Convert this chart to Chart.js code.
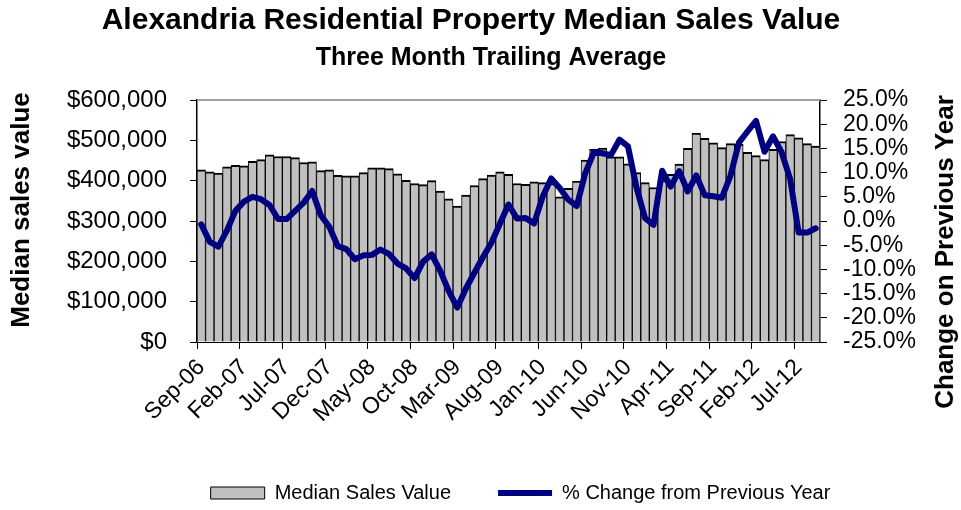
<!DOCTYPE html>
<html><head><meta charset="utf-8">
<script src="https://cdn.jsdelivr.net/npm/chart.js@4.4.1/dist/chart.umd.min.js"></script>
<style>html,body{margin:0;padding:0;background:#fff}canvas{display:block}</style>
</head><body>
<canvas id="c" width="961" height="510"></canvas>
<script>
const chartTitle = 'Alexandria Residential Property Median Sales Value';
const chartSubtitle = 'Three Month Trailing Average';
const leftAxisTitle = 'Median sales value';
const rightAxisTitle = 'Change on Previous Year';
const seriesNames = ['Median Sales Value', '% Change from Previous Year'];

const months = [
  'Sep-06','Oct-06','Nov-06','Dec-06','Jan-07','Feb-07','Mar-07','Apr-07','May-07','Jun-07',
  'Jul-07','Aug-07','Sep-07','Oct-07','Nov-07','Dec-07','Jan-08','Feb-08','Mar-08','Apr-08',
  'May-08','Jun-08','Jul-08','Aug-08','Sep-08','Oct-08','Nov-08','Dec-08','Jan-09','Feb-09',
  'Mar-09','Apr-09','May-09','Jun-09','Jul-09','Aug-09','Sep-09','Oct-09','Nov-09','Dec-09',
  'Jan-10','Feb-10','Mar-10','Apr-10','May-10','Jun-10','Jul-10','Aug-10','Sep-10','Oct-10',
  'Nov-10','Dec-10','Jan-11','Feb-11','Mar-11','Apr-11','May-11','Jun-11','Jul-11','Aug-11',
  'Sep-11','Oct-11','Nov-11','Dec-11','Jan-12','Feb-12','Mar-12','Apr-12','May-12','Jun-12',
  'Jul-12','Aug-12','Sep-12'
];

const medianSalesValue = [
  427000, 422000, 419000, 434000, 438000, 437000, 448000, 452000, 464000, 460000,
  460000, 457000, 445000, 447000, 425000, 427000, 413000, 412000, 412000, 420000,
  432000, 432000, 430000, 417000, 401000, 393000, 390000, 400000, 374000, 355000,
  337000, 364000, 388000, 405000, 414000, 422000, 416000, 393000, 391000, 397000,
  395000, 393000, 360000, 381000, 399000, 451000, 478000, 481000, 459000, 459000,
  442000, 420000, 395000, 383000, 400000, 416000, 441000, 480000, 518000, 505000,
  494000, 482000, 492000, 490000, 470000, 462000, 452000, 478000, 497000, 514000,
  506000, 492000, 486000
];

const pctChange = [
  -0.7, -4.3, -5.3, -2.0, 2.1, 4.0, 5.0, 4.5, 3.3, 0.4,
  0.4, 2.1, 3.8, 6.2, 1.2, -1.2, -5.2, -5.8, -7.9, -7.1,
  -7.0, -5.9, -6.8, -8.8, -9.8, -11.8, -8.4, -6.9, -10.3, -14.5,
  -17.9, -14.0, -10.7, -7.5, -4.5, -0.5, 3.4, 0.5, 0.6, -0.5,
  5.0, 8.8, 6.8, 4.4, 3.1, 9.9, 14.2, 14.0, 13.6, 16.8,
  15.4, 6.9, 0.6, -0.8, 10.4, 7.1, 10.3, 6.1, 9.4, 5.3,
  5.1, 4.8, 9.3, 16.2, 18.5, 20.7, 14.3, 17.5, 14.2, 8.7,
  -2.4, -2.4, -1.5
];

const FONT = '"Liberation Sans", Arial, Helvetica, sans-serif';
Chart.defaults.font.family = FONT;
Chart.defaults.color = '#000';

const decor = {
  id: 'decor',
  afterDraw(chart) {
    const ctx = chart.ctx, a = chart.chartArea;
    ctx.save();
    ctx.strokeStyle = '#a0a0a0';
    ctx.lineWidth = 2;
    ctx.beginPath();
    ctx.moveTo(a.left, a.top);
    ctx.lineTo(a.right, a.top);
    ctx.stroke();
    ctx.fillStyle = '#000';
    ctx.textAlign = 'center';
    ctx.textBaseline = 'alphabetic';
    ctx.font = 'bold 30px ' + FONT;
    ctx.fillText(chartTitle, 471, 29);
    ctx.font = 'bold 25px ' + FONT;
    ctx.fillText(chartSubtitle, 491, 65);
    ctx.font = 'bold 26px ' + FONT;
    ctx.textBaseline = 'middle';
    ctx.save();
    ctx.translate(22, 210);
    ctx.rotate(-Math.PI / 2);
    ctx.fillText(leftAxisTitle, 0, 0);
    ctx.restore();
    ctx.save();
    ctx.translate(946, 252);
    ctx.rotate(-Math.PI / 2);
    ctx.fillText(rightAxisTitle, 0, 0);
    ctx.restore();
    ctx.restore();
  }
};

new Chart(document.getElementById('c'), {
  type: 'bar',
  data: {
    labels: months,
    datasets: [
      {
        type: 'bar',
        label: seriesNames[0],
        data: medianSalesValue,
        yAxisID: 'y',
        backgroundColor: '#c0c0c0',
        borderColor: '#000',
        borderWidth: {top: 2, left: 1, right: 1, bottom: 0},
        barPercentage: 1,
        categoryPercentage: 1,
        pointStyle: 'rect',
        order: 2
      },
      {
        type: 'line',
        label: seriesNames[1],
        data: pctChange,
        yAxisID: 'y1',
        borderColor: '#000080',
        backgroundColor: '#000080',
        borderWidth: 6,
        borderJoinStyle: 'round',
        borderCapStyle: 'round',
        pointRadius: 0,
        pointHoverRadius: 0,
        pointStyle: 'line',
        tension: 0,
        order: 1
      }
    ]
  },
  options: {
    responsive: false,
    devicePixelRatio: 1,
    animation: false,
    layout: {padding: {top: 100, left: 0, right: -80, bottom: -3}},
    plugins: {
      title: {display: false},
      tooltip: {enabled: false},
      legend: {
        position: 'bottom',
        labels: {
          usePointStyle: true,
          pointStyleWidth: 54,
          boxHeight: 12,
          padding: 47,
          color: '#000',
          font: {size: 20, family: FONT},
          sort: (a, b) => a.datasetIndex - b.datasetIndex
        }
      }
    },
    scales: {
      x: {
        offset: true,
        afterFit: s => { s.height = 94; },
        grid: {
          offset: true,
          drawOnChartArea: false,
          tickLength: 7,
          color: c => (c.index % 5 === 0 ? '#000' : 'rgba(0,0,0,0)')
        },
        border: {display: true, color: '#000', width: 1},
        ticks: {
          autoSkip: false,
          minRotation: 45,
          maxRotation: 45,
          padding: 5,
          color: '#000',
          font: {size: 23, family: FONT},
          callback: function (v, i) { return i % 5 === 0 ? this.getLabelForValue(v) : ''; }
        }
      },
      y: {
        position: 'left',
        min: 0,
        max: 600000,
        afterFit: s => { s.width = 197; },
        grid: {drawOnChartArea: false, tickLength: 7, color: '#000'},
        border: {display: true, color: '#000', width: 1.5},
        ticks: {
          autoSkip: false,
          stepSize: 100000,
          padding: 23,
          color: '#000',
          font: {size: 24, family: FONT},
          callback: v => '$' + Number(v).toLocaleString('en-US')
        }
      },
      y1: {
        position: 'right',
        min: -25,
        max: 25,
        afterFit: s => { s.width = 221; },
        grid: {drawOnChartArea: false, tickLength: 7, color: '#000'},
        border: {display: true, color: '#000', width: 1.5},
        ticks: {
          autoSkip: false,
          stepSize: 5,
          padding: 16,
          color: '#000',
          font: {size: 23, family: FONT},
          callback: v => Number(v).toFixed(1) + '%'
        }
      }
    }
  },
  plugins: [decor]
});
</script>
</body></html>
